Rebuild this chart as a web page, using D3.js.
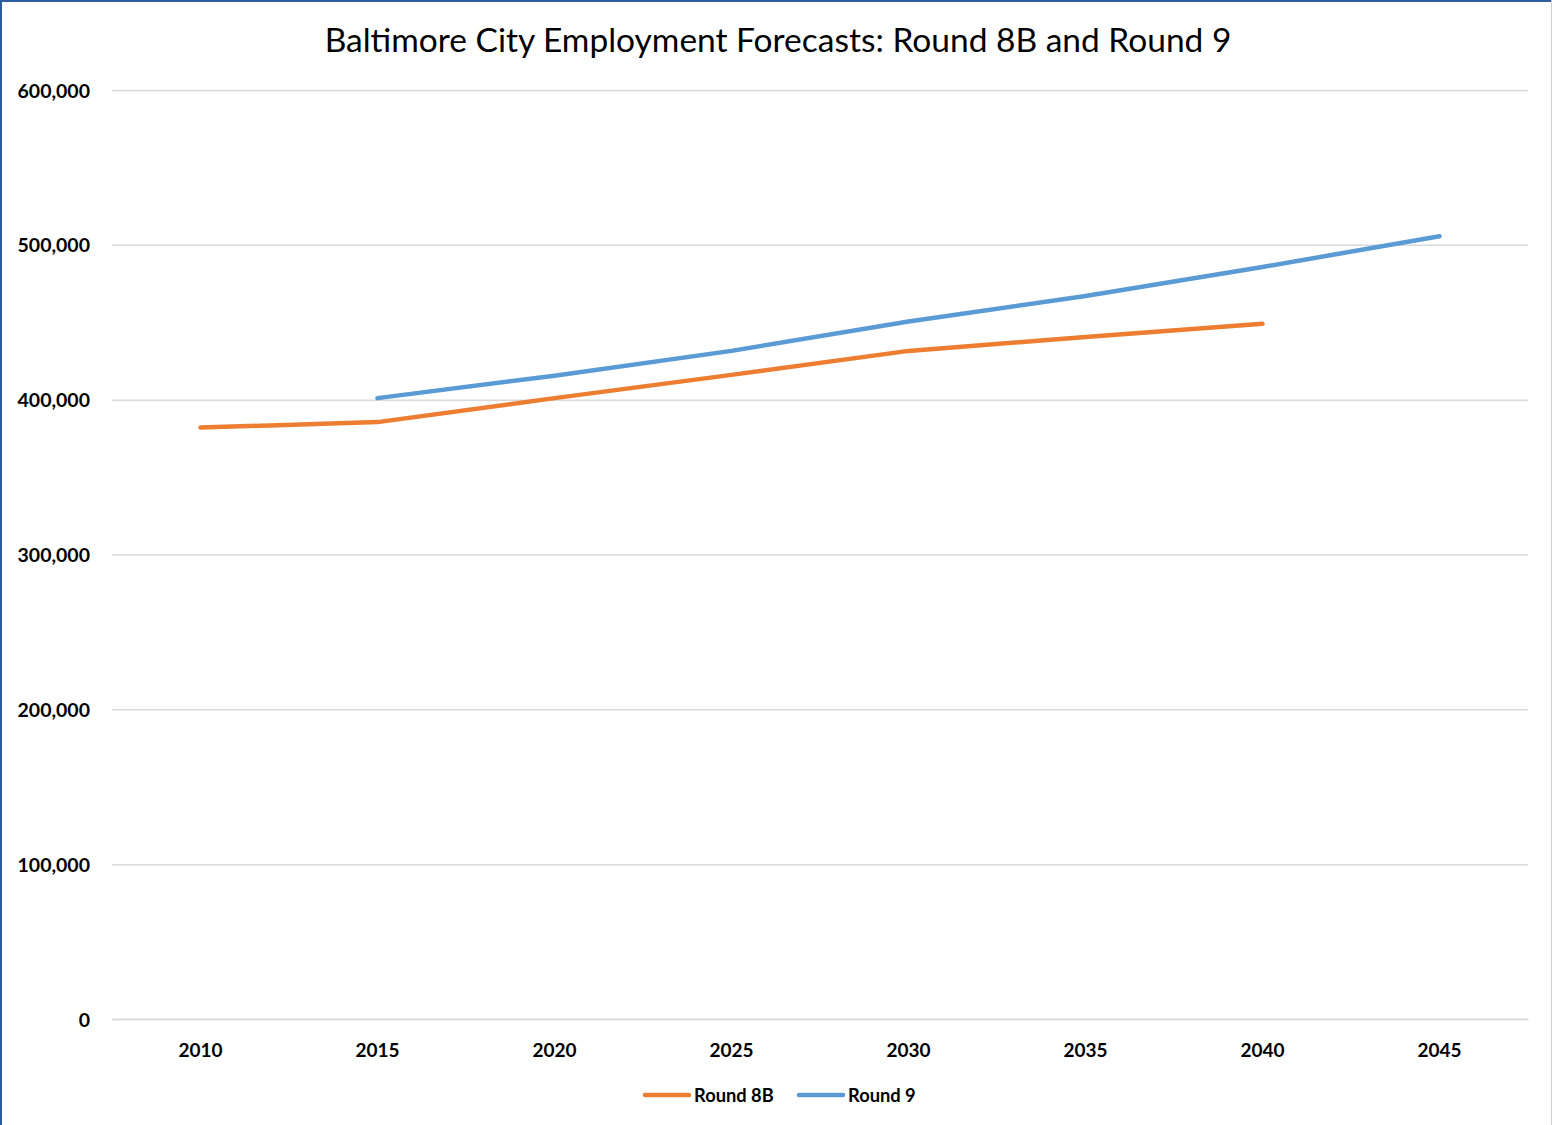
<!DOCTYPE html>
<html><head><meta charset="utf-8">
<script src="https://cdn.jsdelivr.net/npm/d3@7"></script>
<style>
html,body{margin:0;padding:0;background:#fff;}
svg{display:block;}
text{font-family:Lato,"Open Sans",sans-serif;}
</style></head>
<body>
<svg id="c" width="1552" height="1125"></svg>
<script>
const years = ["2010","2015","2020","2025","2030","2035","2040","2045"];
const round8B = [382000, 385500, 401000, 416000, 431500, 440500, 449000, null];
const round9 = [null, 401000, 415500, 431500, 450500, 467000, 485700, 505500];
const yTicks = [0, 100000, 200000, 300000, 400000, 500000, 600000];
const seriesNames = ["Round 8B", "Round 9"];
const seriesColors = ["#ED7D31", "#5B9BD5"];
const title = "Baltimore City Employment Forecasts: Round 8B and Round 9";

const svg = d3.select("#c");
const W = 1552, H = 1125;
const m = {left:112, right:1528, top:90, bottom:1019};

// border
svg.append("rect").attr("x",0).attr("y",0).attr("width",W).attr("height",H).attr("fill","#fff");
svg.append("line").attr("x1",1).attr("x2",1).attr("y1",0).attr("y2",H).attr("stroke","#2E5C9E").attr("stroke-width",2);
svg.append("line").attr("x1",0).attr("x2",W).attr("y1",1).attr("y2",1).attr("stroke","#2E5C9E").attr("stroke-width",2);
svg.append("line").attr("x1",W-0.5).attr("x2",W-0.5).attr("y1",0).attr("y2",H).attr("stroke","#D0D0D0").attr("stroke-width",1);

const x = d3.scaleBand().domain(years).range([m.left, m.right]);
const y = d3.scaleLinear().domain([0, 600000]).range([m.bottom, m.top]);
const fmt = d3.format(",");
const lblFont = "Lato,'Open Sans',sans-serif";

// gridlines
const yAxis = d3.axisLeft(y).tickValues(yTicks).tickSize(-(m.right-m.left)).tickFormat(d=>fmt(d)).tickPadding(22);
const ga = svg.append("g").attr("transform",`translate(${m.left},0)`).call(yAxis);
ga.select(".domain").remove();
ga.selectAll(".tick line").attr("stroke","#D9D9D9").attr("stroke-width",1.5);
ga.selectAll(".tick text").attr("font-size",19.5).attr("font-weight","bold").attr("fill","#000")
  .style("font-family",lblFont).attr("dy","0.36em");

// x axis
const xAxis = d3.axisBottom(x).tickSize(0).tickPadding(25);
const gx = svg.append("g").attr("transform",`translate(0,${m.bottom})`).call(xAxis);
gx.select(".domain").attr("stroke","#D9D9D9").attr("stroke-width",1.5);
gx.selectAll(".tick text").attr("font-size",19).attr("font-weight","bold").attr("fill","#000")
  .style("font-family",lblFont);

// lines
const cx = d => x(d) + x.bandwidth()/2;
[round8B, round9].forEach((vals,i)=>{
  const pts = years.map((yr,j)=>({yr, v: vals[j]}));
  const line = d3.line().defined(d=>d.v!=null).x(d=>cx(d.yr)).y(d=>y(d.v));
  svg.append("path").datum(pts).attr("d",line).attr("fill","none")
    .attr("stroke",seriesColors[i]).attr("stroke-width",4.5)
    .attr("stroke-linecap","round").attr("stroke-linejoin","round");
});

// title
const t = svg.append("text").attr("x",778).attr("y",52).attr("text-anchor","middle")
  .attr("font-size",32).attr("fill","#000").text(title);
const tw = t.node().getComputedTextLength();
t.attr("font-size", 32*907/tw);

// legend
const legX = [643, 797];
seriesNames.forEach((n,i)=>{
  const g = svg.append("g").attr("transform",`translate(${legX[i]},1095)`);
  g.append("line").attr("x1",2).attr("x2",46).attr("y1",0).attr("y2",0)
    .attr("stroke",seriesColors[i]).attr("stroke-width",4.5).attr("stroke-linecap","round");
  g.append("text").attr("x",51).attr("y",7).attr("font-size",18.3).attr("font-weight","bold")
    .attr("fill","#000").text(n);
});
</script>
</body></html>
